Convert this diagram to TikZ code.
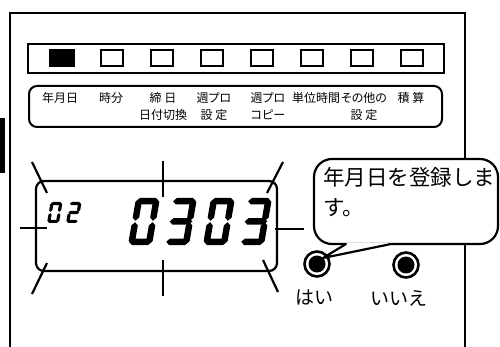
\documentclass[tikz,border=0pt]{standalone}
\usepackage{fontspec}
\setmainfont{Noto Sans CJK JP}
\newfontfamily\proptext[RawFeature=+palt]{Noto Sans CJK JP}
\usetikzlibrary{positioning}

% seven-segment digit: pieces as small hexagons, y up
\tikzset{
    hseg/.style n args={3}{insert path={(#1+\dg,#3) -- (#1+\dg+\dt/2,#3+\dt/2) -- (#2-\dg-\dt/2,#3+\dt/2)
        -- (#2-\dg,#3) -- (#2-\dg-\dt/2,#3-\dt/2) -- (#1+\dg+\dt/2,#3-\dt/2) -- cycle}},
    vseg/.style n args={3}{insert path={(#1,#2+\dg) -- (#1+\dt/2,#2+\dg+\dt/2) -- (#1+\dt/2,#3-\dg-\dt/2)
        -- (#1,#3-\dg) -- (#1-\dt/2,#3-\dg-\dt/2) -- (#1-\dt/2,#2+\dg+\dt/2) -- cycle}},
    sa/.style={hseg={0}{\dw}{\dh-\dt/2}},
    sb/.style={vseg={\dw-\dt/2}{\dh/2}{\dh}},
    sc/.style={vseg={\dw-\dt/2}{0}{\dh/2}},
    sd/.style={hseg={0}{\dw}{\dt/2}},
    se/.style={vseg={\dt/2}{0}{\dh/2}},
    sf/.style={vseg={\dt/2}{\dh/2}{\dh}},
    sg/.style={hseg={0}{\dw}{\dh/2}}}
\newcommand{\lcddigit}[6]{%
    \begin{scope}[shift={(#1,#2)}, x=1pt, y=1pt, xslant=0.17]
        \def\dw{#3}\def\dh{#4}\def\dt{#5}\def\dg{0.7}
        \foreach \s in {#6} {\fill (0,0) [s\s];}
    \end{scope}}

\begin{document}
\begin{tikzpicture}[x=1pt, y=-1pt,
    frame/.style={line width=2pt},
    led/.style={rectangle, draw, line width=1.8pt, minimum width=22pt, minimum height=16pt, inner sep=0pt},
    ledon/.style={led, fill=black, minimum width=24pt, minimum height=17pt},
    lbl/.style={anchor=north, inner sep=0pt, align=center, font=\proptext\fontsize{12}{17}\selectfont},
    lcd/.style={rectangle, draw, rounded corners=8pt, line width=2.2pt, minimum width=241pt, minimum height=90pt},
    flash/.style={line width=2.2pt},
    btn/.style={circle, draw, line width=2.6pt, minimum size=25pt, inner sep=0pt,
        path picture={\fill (path picture bounding box.center) circle (8.5pt);}},
    btnlbl/.style={inner sep=0pt, font=\fontsize{19}{19}\selectfont},
    bubble/.style={rectangle, draw, fill=white, rounded corners=18pt, line width=2.2pt, minimum width=184pt, minimum height=85pt}]
    \useasboundingbox (0,0) rectangle (500,347);
    \fill (0,118) rectangle (5,173);
    \draw[frame] (10,347) -- (10,13) -- (465,13) -- (465,347);

    % key lamps
    \node[draw, line width=2.2pt, minimum width=416pt, minimum height=29pt] (strip) at (236,58.5) {};
    \node[ledon] (led1) at (62,58) {};
    \foreach \i in {2,...,8}
        \node[led] (led\i) at ({12+50*\i},58) {};

    \node[draw, rounded corners=8pt, line width=2pt, minimum width=413pt, minimum height=41pt] (panel) at (235.5,106.5) {};
    \foreach \x/\txt [count=\i] in {60/{年月日}, 111/{時分}, 163/{締 日\\日付切換}, 214/{週プロ\\設 定},
            268/{週プロ\\コピー}, 316/{単位時間}, 364/{その他の\\設 定}, 411/{積 算}}
        \node[lbl] (lbl\i) at (\x,92) {\txt};

    % display
    \node[lcd] (lcd) at (156.5,226) {};
    \draw[flash] (163,161) -- (163,197);
    \draw[flash] (163,260) -- (163,296);
    \draw[flash] (20,228) -- (47,228);
    \draw[flash] (275,229) -- (304,229);
    \draw[flash] (32,162) -- (47,193);
    \draw[flash] (283,162) -- (267,193);
    \draw[flash] (47,263) -- (32,294);
    \draw[flash] (263,260) -- (278,292);

    \lcddigit{47}{223}{12}{21}{3.2}{a,b,c,d,e,f}
    \lcddigit{66}{223}{12}{21}{3.2}{a,b,g,e,d}
    \lcddigit{128}{245}{24}{47}{6.5}{a,b,c,d,e,f}
    \lcddigit{165}{245}{24}{47}{6.5}{a,b,c,d,g}
    \lcddigit{203}{245}{24}{47}{6.5}{a,b,c,d,e,f}
    \lcddigit{240}{245}{24}{47}{6.5}{a,b,c,d,g}

    % message
    \node[bubble] (bubble) at (406,201.5) {};
    \coordinate (tip) at (323,258);
    \fill[white] (346,244) -- (tip) -- (391,244) -- cycle;
    \fill[white] (346,242.5) rectangle (391,245.6);
    \node[anchor=north west, inner sep=0pt, align=left, font=\fontsize{21.5}{30}\selectfont] (msg) at (323,167) {年月日を登録しま\\す。};

    \node[btn] (yes) at (317,264) {};
    \node[btn] (no) at (406,265) {};
    \draw[flash, line cap=round, line join=round] (346,244) -- (tip) -- (391,244);
    \node[btnlbl] (yeslbl) at (314,298) {はい};
    \node[btnlbl] (nolbl) at (399,298) {いいえ};
\end{tikzpicture}
\end{document}
